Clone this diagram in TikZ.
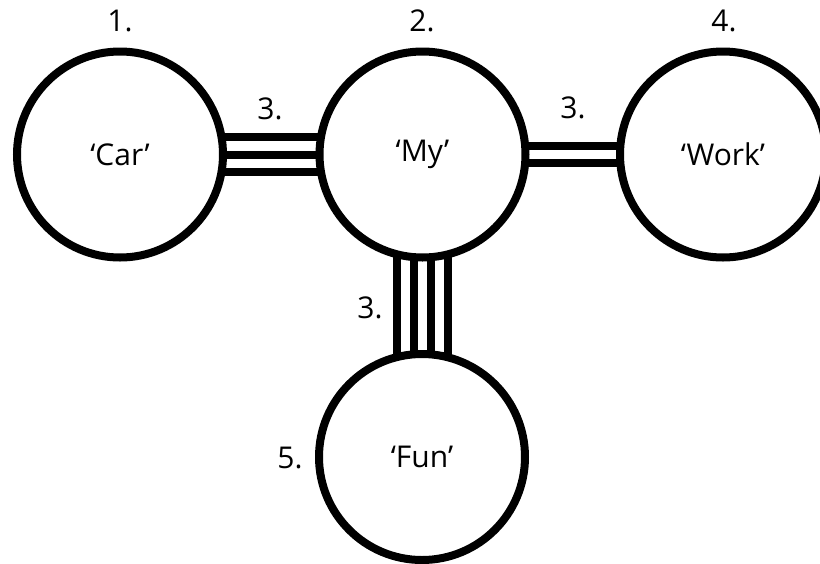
\documentclass[tikz,border=0pt]{standalone}
\usepackage{fontspec}
\setmainfont{Open Sans}
\usetikzlibrary{backgrounds}
\tikzset{
  bubble/.style={circle, draw=black, line width=8pt, fill=white, minimum size=206pt, inner sep=0pt, font=\fontsize{30}{34}\selectfont},
  num/.style={font=\fontsize{30}{34}\selectfont, inner sep=0pt},
  bar/.style={line width=8pt, black}
}
\begin{document}
\begin{tikzpicture}[x=1pt, y=-1pt]
\useasboundingbox (0,0) rectangle (820,563);
\node[bubble] (car) at (120,154.5) {‘Car’};
\node[bubble] (my) at (422.5,154.5) {‘My’};
\node[bubble] (work) at (723,154.5) {‘Work’};
\node[bubble] (fun) at (422,457) {‘Fun’};
\begin{scope}[on background layer]
\foreach \d in {-17.5,0,17.5}
  \draw[bar] ([yshift=\d pt]car.center) -- ([yshift=\d pt]my.center);
\foreach \d in {-8.5,8.5}
  \draw[bar] ([yshift=\d pt]my.center) -- ([yshift=\d pt]work.center);
\foreach \d in {-25.2,-8.4,8.4,25.2}
  \draw[bar] ([xshift=\d pt]my.center) -- ([xshift=\d pt]my.center |- fun.center);
\end{scope}
\node[num] (l1) at (120,21) {1.};
\node[num] (l2) at (422,21) {2.};
\node[num] (l4) at (724,21) {4.};
\node[num] (l3a) at (270,109) {3.};
\node[num] (l3b) at (573,108) {3.};
\node[num] (l3c) at (370,308) {3.};
\node[num] (l5) at (290,458) {5.};
\end{tikzpicture}
\end{document}
